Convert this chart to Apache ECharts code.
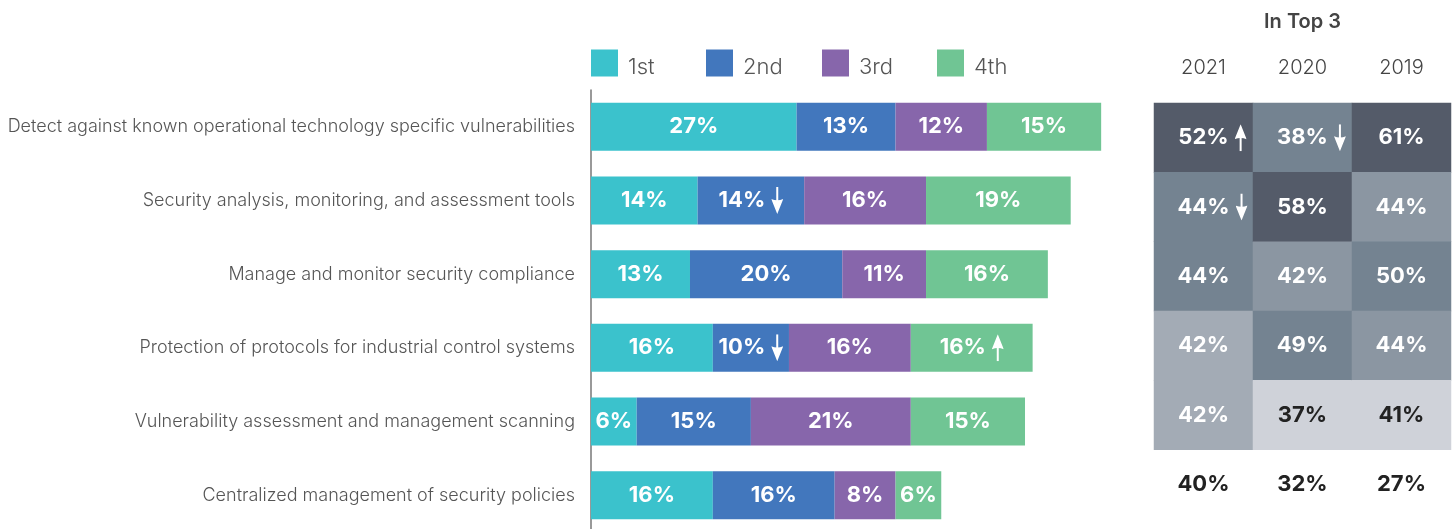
<!DOCTYPE html>
<html>
<head>
<meta charset="utf-8">
<title>OT security priorities</title>
<script src="https://cdn.jsdelivr.net/npm/echarts@6/dist/echarts.min.js"></script>
<style>
html, body { margin: 0; padding: 0; background: #fff; }
#chart { width: 1453px; height: 529px; }
</style>
</head>
<body>
<div id="chart"></div>
<script>
// categories (top to bottom)
var categories = [
	'Detect against known operational technology specific vulnerabilities',
	'Security analysis, monitoring, and assessment tools',
	'Manage and monitor security compliance',
	'Protection of protocols for industrial control systems',
	'Vulnerability assessment and management scanning',
	'Centralized management of security policies'
];

// ranked 1st..4th, in %
var rankNames = ['1st', '2nd', '3rd', '4th'];
var first = [27, 14, 13, 16, 6, 16];
var second = [13, 14, 20, 10, 15, 16];
var third = [12, 16, 11, 16, 21, 8];
var fourth = [15, 19, 16, 16, 15, 6];
// significant change markers
var firstTrend = ['', '', '', '', '', ''];
var secondTrend = ['', 'down', '', 'down', '', ''];
var thirdTrend = ['', '', '', '', '', ''];
var fourthTrend = ['', '', '', 'up', '', ''];

// "In Top 3" by year, in %
var years = ['2021', '2020', '2019'];
var top2021 = [52, 44, 44, 42, 42, 40];
var top2020 = [38, 58, 42, 49, 37, 32];
var top2019 = [61, 44, 50, 44, 41, 27];
var trend2021 = ['up', 'down', '', '', '', ''];
var trend2020 = ['down', '', '', '', '', ''];
var trend2019 = ['', '', '', '', '', ''];
// cell shade tier (0 = darkest, 5 = no fill)
var tier2021 = [0, 1, 1, 3, 3, 5];
var tier2020 = [1, 0, 2, 1, 4, 5];
var tier2019 = [0, 2, 1, 2, 4, 5];

var rankColors = ['#3bc2cc', '#4277bd', '#8766ab', '#70c594'];
var tierColors = ['#545b69', '#748391', '#8b96a2', '#a3abb5', '#cfd2d9', 'rgba(0,0,0,0)'];

function svgUri(s) {
	return 'data:image/svg+xml;charset=utf-8,' + encodeURIComponent(s);
}
var upImg = svgUri("<svg xmlns='http://www.w3.org/2000/svg' width='12' height='27' viewBox='0 0 12 27'><path d='M6 10V27' stroke='#fff' stroke-width='2'/><path d='M0 15L6 0L12 15Q6 12.5 0 15Z' fill='#fff'/></svg>");
var dnImg = svgUri("<svg xmlns='http://www.w3.org/2000/svg' width='12' height='27' viewBox='0 0 12 27'><path d='M6 0V17' stroke='#fff' stroke-width='2'/><path d='M0 12L6 27L12 12Q6 14.5 0 12Z' fill='#fff'/></svg>");

var richStyle = {
	v: { fontFamily: 'Inter', fontSize: 22, fontWeight: 700, lineHeight: 27, verticalAlign: 'middle' },
	g: { width: 6, verticalAlign: 'middle' },
	sp: { width: 18, verticalAlign: 'middle' },
	up: { width: 12, height: 27, verticalAlign: 'middle', backgroundColor: { image: upImg } },
	dn: { width: 12, height: 27, verticalAlign: 'middle', backgroundColor: { image: dnImg } }
};

function arrow(t) {
	if (t === 'up') return '{g|}{up|}';
	if (t === 'down') return '{g|}{dn|}';
	return '';
}

var rankValues = [first, second, third, fourth];
var rankTrends = [firstTrend, secondTrend, thirdTrend, fourthTrend];
var topValues = [top2021, top2020, top2019];
var topTrends = [trend2021, trend2020, trend2019];
var topTiers = [tier2021, tier2020, tier2019];

var heatData = [];
topValues.forEach(function(col, c) {
	col.forEach(function(v, r) {
		var t = topTiers[c][r];
		heatData.push({
			value: [c, r, v],
			itemStyle: { color: tierColors[t] },
			label: { color: t >= 4 ? '#222' : '#fff' }
		});
	});
});

var barSeries = rankNames.map(function(name, i) {
	return {
		name: name,
		type: 'bar',
		stack: 'rank',
		barWidth: 48,
		xAxisIndex: 0,
		yAxisIndex: 0,
		data: rankValues[i],
		itemStyle: { color: rankColors[i] },
		label: {
			show: true,
			position: 'inside',
			color: '#fff',
			formatter: function(p) {
				return '{v|' + p.value + '%}' + arrow(rankTrends[i][p.dataIndex]);
			},
			rich: richStyle
		},
		emphasis: { disabled: true }
	};
});

var legendLeft = [591, 706, 822, 937];

var myChart = echarts.init(document.getElementById('chart'));
var option = {
	animation: false,
	textStyle: { fontFamily: 'Inter' },
	legend: rankNames.map(function(name, i) {
		return {
			data: [name],
			left: legendLeft[i],
			top: 48,
			padding: 0,
			icon: 'rect',
			itemWidth: 27,
			itemHeight: 27,
			formatter: function(n) {
				return '{s|}{a|' + n + '}';
			},
			textStyle: {
				fontFamily: 'Inter',
				fontSize: 22,
				fontWeight: 300,
				color: '#555',
				padding: [0, 0, 0, 5],
				rich: {
					s: { width: 0, height: 30, lineHeight: 30, verticalAlign: 'bottom' },
					a: { fontFamily: 'Inter', fontSize: 22, fontWeight: 300, color: '#555', lineHeight: 22, verticalAlign: 'bottom' }
				}
			}
		};
	}),
	grid: [
		{ left: 591, top: 90, width: 533, height: 442, containLabel: false, outerBoundsMode: 'none' },
		{ left: 1154, top: 103, width: 297, height: 416, containLabel: false, outerBoundsMode: 'none' }
	],
	xAxis: [
		{ type: 'value', gridIndex: 0, min: 0, max: 70, show: false },
		{
			type: 'category',
			gridIndex: 1,
			data: years,
			position: 'top',
			axisLine: { show: false },
			axisTick: { show: false },
			axisLabel: { fontFamily: 'Inter', fontSize: 20, fontWeight: 300, color: '#444', margin: 25 },
			name: 'In Top 3',
			nameLocation: 'middle',
			nameGap: 71,
			nameTextStyle: { fontFamily: 'Inter', fontSize: 20, fontWeight: 600, color: '#444' }
		}
	],
	yAxis: [
		{
			type: 'category',
			gridIndex: 0,
			inverse: true,
			data: categories,
			axisLine: { show: true, lineStyle: { color: '#777', width: 1.5 } },
			axisTick: { show: false },
			axisLabel: { fontFamily: 'Inter', fontSize: 18, fontWeight: 300, color: '#555', margin: 16 }
		},
		{
			type: 'category',
			gridIndex: 1,
			inverse: true,
			data: categories,
			show: false
		}
	],
	series: barSeries.concat([{
		type: 'heatmap',
		xAxisIndex: 1,
		yAxisIndex: 1,
		data: heatData,
		label: {
			show: true,
			formatter: function(p) {
				var t = topTrends[p.value[0]][p.value[1]];
				return (t ? '{sp|}' : '') + '{v|' + p.value[2] + '%}' + arrow(t);
			},
			rich: richStyle
		},
		emphasis: { disabled: true }
	}])
};
myChart.setOption(option);
window.addEventListener('resize', function() {
	myChart.resize();
});
</script>
</body>
</html>
